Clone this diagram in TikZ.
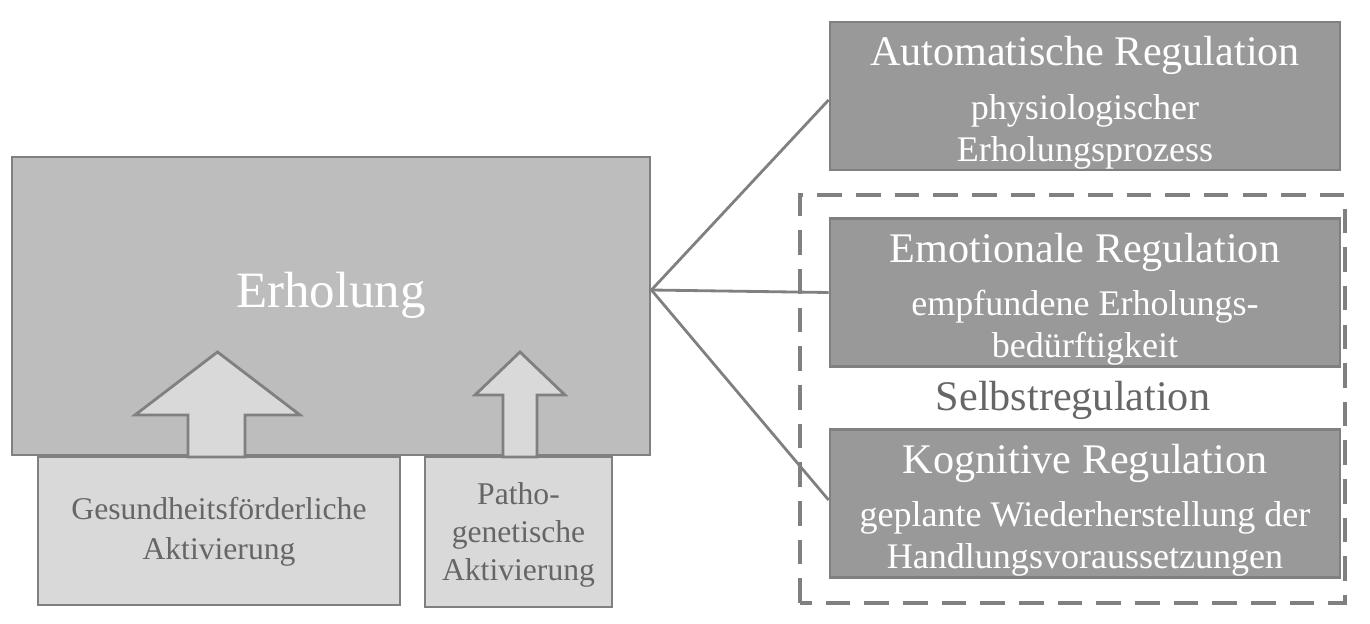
\documentclass[tikz,border=0pt]{standalone}
\usepackage{fontspec}
\setmainfont{Liberation Serif}
\begin{document}
\begin{tikzpicture}[
  box/.style={draw=black!50, line width=1.6pt, fill=#1},
  regbox/.style={box=black!40, minimum width=10.2cm, minimum height=2.96cm},
  head/.style={text=white, font=\fontsize{24}{28}\selectfont},
  sub/.style={text=white, font=\fontsize{20.5}{24}\selectfont, align=center},
  low/.style={text=black!60, font=\fontsize{18}{22.5}\selectfont, align=center},
  link/.style={draw=black!50, line width=1.6pt}
]
\useasboundingbox (0,0) rectangle (27.4,12.46);
% main block
\node[box=black!26, minimum width=12.76cm, minimum height=5.96cm] (erh) at (6.62,6.34) {};
\node[text=white, font=\fontsize{29}{32}\selectfont] at (6.62,6.56) {Erholung};
% the two sources
\node[box=black!15, minimum width=7.24cm, minimum height=2.96cm] (ges) at (4.38,1.84) {};
\node[low] at (4.38,1.82) {Gesundheitsförderliche\\Aktivierung};
\node[box=black!15, minimum width=3.74cm, minimum height=3.0cm] (path) at (10.37,1.82) {};
\node[low, font=\fontsize{18}{21.5}\selectfont] at (10.37,1.76) {Patho-\\genetische\\Aktivierung};
% arrows
\draw[box=black!15] (3.76,3.32) -- (3.76,4.16) -- (2.7,4.16) -- (4.35,5.42) -- (6.0,4.16) -- (4.9,4.16) -- (4.9,3.32) -- cycle;
\draw[box=black!15] (10.06,3.32) -- (10.06,4.56) -- (9.5,4.56) -- (10.4,5.42) -- (11.3,4.56) -- (10.74,4.56) -- (10.74,3.32) -- cycle;
% regulation
\draw[draw=black!50, line width=2pt, dash pattern=on 14pt off 8pt] (16.0,0.4) rectangle (26.9,8.56);
\node[regbox] (auto) at (21.7,10.54) {};
\node[head] at ([yshift=-0.7cm]auto.north) {Automatische Regulation};
\node[sub] at ([yshift=-2.22cm]auto.north) {physiologischer\\Erholungsprozess};
\node[regbox] (emo) at (21.7,6.61) {};
\node[head] at ([yshift=-0.7cm]emo.north) {Emotionale Regulation};
\node[sub] at ([yshift=-2.22cm]emo.north) {empfundene Erholungs-\\bedürftigkeit};
\node[regbox] (kog) at (21.7,2.39) {};
\node[head] at ([yshift=-0.7cm]kog.north) {Kognitive Regulation};
\node[sub] at ([yshift=-2.22cm]kog.north) {geplante Wiederherstellung der\\Handlungsvoraussetzungen};
\node[text=black!60, font=\fontsize{24}{28}\selectfont] (selbst) at (21.46,4.46) {Selbstregulation};
% connectors
\coordinate (hub) at ([yshift=0.32cm]erh.east);
\draw[link] (hub) -- ([yshift=-0.08cm]auto.west);
\draw[link] (hub) -- (emo.west);
\draw[link] (hub) -- ([yshift=0.07cm]kog.west);
\end{tikzpicture}
\end{document}
